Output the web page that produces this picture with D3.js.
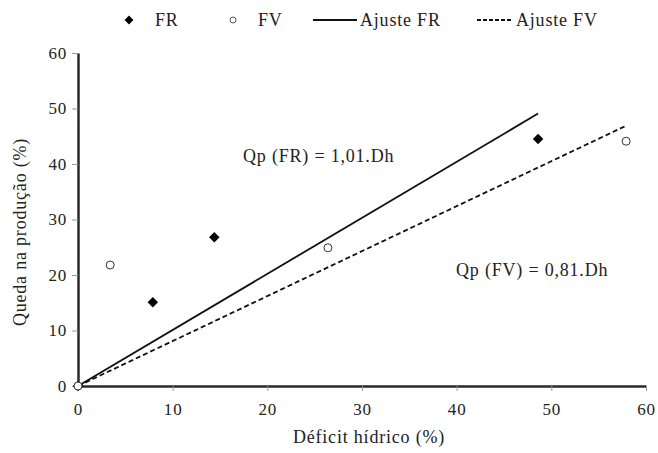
<!DOCTYPE html>
<html>
<head>
<meta charset="utf-8">
<script src="https://cdn.jsdelivr.net/npm/d3@7"></script>
<style>
  body { margin: 0; background: #fff; }
  text { font-family: "Liberation Serif", "DejaVu Serif", serif; fill: #222; letter-spacing: 0.8px; }
</style>
</head>
<body>
<div id="chart"></div>
<script>
const width = 658
const height = 453
const margin = { left: 78, right: 12, top: 53, bottom: 67 }

// Data
const frX = [0, 7.9, 14.4, 48.6]
const frY = [0, 15.1, 26.8, 44.5]
const fvX = [0, 3.4, 26.4, 57.9]
const fvY = [0, 21.8, 24.9, 44.1]
const slopeFR = 1.01
const slopeFV = 0.81
const ticks = [0, 10, 20, 30, 40, 50, 60]

const svg = d3.select('#chart')
    .append('svg')
    .attr('width', width)
    .attr('height', height)

const xScale = d3.scaleLinear()
    .domain([0, 60])
    .range([margin.left, width - margin.right])
const yScale = d3.scaleLinear()
    .domain([0, 60])
    .range([height - margin.bottom, margin.top])

// Axes
const xAxis = d3.axisBottom(xScale).tickValues(ticks).tickSize(5).tickSizeOuter(0)
const yAxis = d3.axisLeft(yScale).tickValues(ticks).tickSize(6).tickSizeOuter(0)

const gx = svg.append('g')
    .attr('transform', `translate(0, ${yScale(0)})`)
    .call(xAxis)
const gy = svg.append('g')
    .attr('transform', `translate(${xScale(0)}, 0)`)
    .call(yAxis)

for (const g of [gx, gy]) {
    g.select('.domain').attr('stroke', '#2a2a2a').attr('stroke-width', 2.5)
    g.selectAll('.tick line').attr('stroke', '#999').attr('stroke-width', 1)
    g.selectAll('.tick text')
        .style('font-family', '"Liberation Serif", serif')
        .style('font-size', '17px')
        .attr('fill', '#222')
}
gx.selectAll('.tick text').attr('dy', '1.25em')
gy.selectAll('.tick text').attr('x', -11)

// Fit lines
const line = d3.line().x(d => xScale(d[0])).y(d => yScale(d[1]))
const maxFR = d3.max(frX)
const maxFV = d3.max(fvX)
svg.append('path')
    .attr('d', line([[0, 0], [maxFR, slopeFR * maxFR]]))
    .attr('stroke', '#111').attr('stroke-width', 1.8).attr('fill', 'none')
svg.append('path')
    .attr('d', line([[0, 0], [maxFV, slopeFV * maxFV]]))
    .attr('stroke', '#111').attr('stroke-width', 1.8).attr('fill', 'none')
    .attr('stroke-dasharray', '5,3')

// Points
const diamond = d3.symbol().type(d3.symbolDiamond2).size(70)
svg.selectAll('.fr')
    .data(frX.map((x, i) => [x, frY[i]]))
    .enter()
    .append('path')
    .attr('class', 'fr')
    .attr('d', diamond)
    .attr('transform', d => `translate(${xScale(d[0])}, ${yScale(d[1])})`)
    .attr('fill', '#000')
svg.selectAll('.fv')
    .data(fvX.map((x, i) => [x, fvY[i]]))
    .enter()
    .append('circle')
    .attr('class', 'fv')
    .attr('cx', d => xScale(d[0]))
    .attr('cy', d => yScale(d[1]))
    .attr('r', 4)
    .attr('fill', '#fff')
    .attr('stroke', '#333')
    .attr('stroke-width', 1)

// Equations
svg.append('text')
    .attr('x', 243).attr('y', 162)
    .style('font-size', '18px')
    .text('Qp (FR) = 1,01.Dh')
svg.append('text')
    .attr('x', 456).attr('y', 276)
    .style('font-size', '18px')
    .text('Qp (FV) = 0,81.Dh')

// Axis titles
svg.append('text')
    .attr('x', 369)
    .attr('y', 443)
    .attr('text-anchor', 'middle')
    .style('font-size', '18px')
    .text('Déficit  hídrico (%)')
svg.append('text')
    .attr('transform', `translate(26, 232) rotate(-90)`)
    .attr('text-anchor', 'middle')
    .style('font-size', '18px')
    .text('Queda na produção (%)')

// Legend
const ly = 20
const legend = svg.append('g')
legend.append('path')
    .attr('d', d3.symbol().type(d3.symbolDiamond2).size(50))
    .attr('transform', `translate(129, ${ly})`)
    .attr('fill', '#000')
legend.append('text').attr('x', 155).attr('y', ly + 6).style('font-size', '18px').text('FR')
legend.append('circle')
    .attr('cx', 233).attr('cy', ly).attr('r', 3)
    .attr('fill', '#fff').attr('stroke', '#555')
legend.append('text').attr('x', 258).attr('y', ly + 6).style('font-size', '18px').text('FV')
legend.append('line')
    .attr('x1', 313).attr('x2', 357).attr('y1', ly).attr('y2', ly)
    .attr('stroke', '#111').attr('stroke-width', 1.8)
legend.append('text').attr('x', 360).attr('y', ly + 6).style('font-size', '18px').text('Ajuste FR')
legend.append('line')
    .attr('x1', 477).attr('x2', 512).attr('y1', ly).attr('y2', ly)
    .attr('stroke', '#111').attr('stroke-width', 1.8).attr('stroke-dasharray', '4,2')
legend.append('text').attr('x', 516).attr('y', ly + 6).style('font-size', '18px').text('Ajuste FV')
</script>
</body>
</html>
